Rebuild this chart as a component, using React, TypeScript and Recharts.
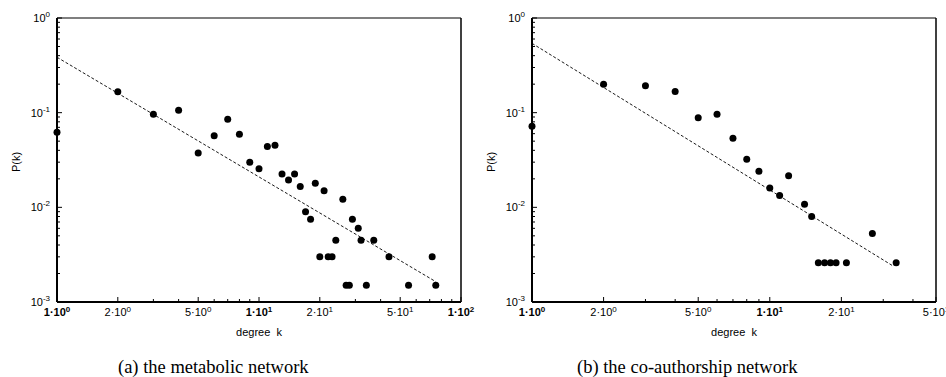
import React from "react";
import { Scatter, ScatterChart, XAxis, YAxis } from "recharts";

// (a) metabolic network: degree k and P(k)
const metabolicK = [1, 2, 3, 4, 5, 6, 7, 8, 9, 10, 11, 12, 13, 14, 15, 16, 17, 18, 19, 20, 21, 22, 23, 24, 26, 27, 28, 29, 31, 32, 34, 37, 44, 55, 72, 75];
const metabolicP = [0.062, 0.166, 0.096, 0.106, 0.0375, 0.057, 0.085, 0.059, 0.03, 0.0256, 0.0438, 0.0453, 0.0225, 0.0195, 0.0225, 0.0166, 0.009, 0.0075, 0.018, 0.003, 0.015, 0.003, 0.003, 0.0045, 0.0122, 0.0015, 0.0015, 0.0075, 0.006, 0.0045, 0.0015, 0.0045, 0.003, 0.0015, 0.003, 0.0015];
const metabolicFitK = [1, 75];
const metabolicFitP = [0.385, 0.00164];

// (b) co-authorship network
const coauthorK = [1, 2, 3, 4, 5, 6, 7, 8, 9, 10, 11, 12, 14, 15, 16, 17, 18, 19, 21, 27, 34];
const coauthorP = [0.072, 0.2, 0.193, 0.167, 0.0886, 0.096, 0.0537, 0.0322, 0.024, 0.016, 0.0133, 0.0215, 0.0108, 0.008, 0.0026, 0.0026, 0.0026, 0.0026, 0.0026, 0.0053, 0.0026];
const coauthorFitK = [1, 33];
const coauthorFitP = [0.54, 0.0024];

// axis ticks (minor ones get no label)
const xTicksMetabolic = [1, 2, 3, 4, 5, 6, 7, 8, 9, 10, 20, 30, 40, 50, 60, 70, 80, 90, 100];
const xTicksCoauthor = [1, 2, 3, 4, 5, 6, 7, 8, 9, 10, 20, 30, 40, 50];
const xLabelled = [1, 2, 5, 10, 20, 50, 100];
const yTicks = [
  0.001, 0.002, 0.003, 0.004, 0.005, 0.006, 0.007, 0.008, 0.009,
  0.01, 0.02, 0.03, 0.04, 0.05, 0.06, 0.07, 0.08, 0.09,
  0.1, 0.2, 0.3, 0.4, 0.5, 0.6, 0.7, 0.8, 0.9, 1,
];
const yLabelled = [0.001, 0.01, 0.1, 1];

const captions = ["(a) the metabolic network", "(b) the co-authorship network"];

const toPoints = (ks: number[], ps: number[]) => ks.map((k, i) => ({ k, p: ps[i] }));

const decade = (v: number) => Math.floor(Math.log10(v) + 1e-9);

function XBottomTick({ x, y, payload }: any) {
  const v = payload.value;
  const labelled = xLabelled.includes(v);
  const exp = decade(v);
  const mant = Math.round(v / Math.pow(10, exp));
  return (
    <g>
      <line x1={x} x2={x} y1={y} y2={y - (labelled ? 5 : 3)} stroke="#000" />
      {labelled && (
        <text x={x} y={y + 14} textAnchor="middle" fontSize={11} fontWeight={mant === 1 ? 700 : 400} fill="#000">
          {mant}·10<tspan dy={-4} fontSize={8}>{exp}</tspan>
        </text>
      )}
    </g>
  );
}

function XTopTick({ x, y, payload }: any) {
  const labelled = xLabelled.includes(payload.value);
  return <line x1={x} x2={x} y1={y} y2={y + (labelled ? 5 : 3)} stroke="#000" />;
}

function YLeftTick({ x, y, payload }: any) {
  const v = payload.value;
  const labelled = yLabelled.includes(v);
  return (
    <g>
      <line x1={x} x2={x + (labelled ? 5 : 3)} y1={y} y2={y} stroke="#000" />
      {labelled && (
        <text x={x - 7} y={y + 4} textAnchor="end" fontSize={11} fill="#000">
          10<tspan dy={-5} fontSize={8}>{Math.round(Math.log10(v))}</tspan>
        </text>
      )}
    </g>
  );
}

function YRightTick({ x, y, payload }: any) {
  const labelled = yLabelled.includes(payload.value);
  return <line x1={x} x2={x - (labelled ? 5 : 3)} y1={y} y2={y} stroke="#000" />;
}

function PLabel({ viewBox }: any) {
  const cx = viewBox.x + viewBox.width - 41;
  const cy = viewBox.y + viewBox.height / 2 + 2;
  return (
    <text x={cx} y={cy} transform={`rotate(-90 ${cx} ${cy})`} textAnchor="middle" dominantBaseline="central" fontSize={11} fill="#000">
      P(k)
    </text>
  );
}

function KLabel({ viewBox }: any) {
  return (
    <text x={viewBox.x + viewBox.width / 2} y={viewBox.y + 34} textAnchor="middle" fontSize={11} fill="#000" style={{ whiteSpace: "pre" }}>
      {"degree  k"}
    </text>
  );
}

function Panel({
  points,
  fit,
  xMax,
  xTicks,
  width,
  leftWidth,
  rightWidth,
}: {
  points: { k: number; p: number }[];
  fit: { k: number; p: number }[];
  xMax: number;
  xTicks: number[];
  width: number;
  leftWidth: number;
  rightWidth: number;
}) {
  return (
    <ScatterChart width={width} height={377} margin={{ top: 0, right: 0, bottom: 37, left: 0 }} style={{ fontFamily: '"Liberation Sans", Arial, sans-serif' }}>
      <XAxis
        dataKey="k"
        type="number"
        scale="log"
        domain={[1, xMax]}
        ticks={xTicks}
        interval={0}
        height={38}
        tickSize={0}
        tickMargin={0}
        tickLine={false}
        axisLine={{ stroke: "#000", strokeWidth: 2 }}
        tick={<XBottomTick />}
        label={<KLabel />}
      />
      <XAxis
        xAxisId="top"
        orientation="top"
        dataKey="k"
        type="number"
        scale="log"
        domain={[1, xMax]}
        ticks={xTicks}
        interval={0}
        height={18}
        tickSize={0}
        tickMargin={0}
        tickLine={false}
        axisLine={{ stroke: "#000", strokeWidth: 1.2 }}
        tick={<XTopTick />}
      />
      <YAxis
        dataKey="p"
        type="number"
        scale="log"
        domain={[0.001, 1]}
        ticks={yTicks}
        interval={0}
        width={leftWidth}
        tickSize={0}
        tickMargin={0}
        tickLine={false}
        axisLine={{ stroke: "#000", strokeWidth: 2 }}
        tick={<YLeftTick />}
        label={<PLabel />}
      />
      <YAxis
        yAxisId="right"
        orientation="right"
        dataKey="p"
        type="number"
        scale="log"
        domain={[0.001, 1]}
        ticks={yTicks}
        interval={0}
        width={rightWidth}
        tickSize={0}
        tickMargin={0}
        tickLine={false}
        axisLine={{ stroke: "#000", strokeWidth: 1.5 }}
        tick={<YRightTick />}
      />
      <Scatter
        data={fit}
        line={{ stroke: "#000", strokeWidth: 0.9, strokeDasharray: "3 2" }}
        shape={() => <g />}
        isAnimationActive={false}
      />
      <Scatter
        data={points}
        fill="#000"
        shape={(s: any) => <circle cx={s.cx} cy={s.cy} r={3.5} fill="#000" />}
        isAnimationActive={false}
      />
    </ScatterChart>
  );
}

export default function App() {
  const captionStyle: React.CSSProperties = {
    position: "absolute",
    top: 358,
    fontFamily: '"Liberation Serif", "Times New Roman", serif',
    fontSize: 18.5,
    lineHeight: "18px",
    whiteSpace: "nowrap",
    color: "#000",
  };
  return (
    <div style={{ position: "absolute", left: 0, top: 0, width: 946, height: 377, background: "#fff", overflow: "hidden" }}>
      <style>{".recharts-surface { overflow: visible; }"}</style>
      <div style={{ position: "absolute", left: 470, top: 0 }}>
        <Panel
          points={toPoints(coauthorK, coauthorP)}
          fit={toPoints(coauthorFitK, coauthorFitP)}
          xMax={50}
          xTicks={xTicksCoauthor}
          width={476}
          leftWidth={62}
          rightWidth={10}
        />
      </div>
      <div style={{ position: "absolute", left: 0, top: 0 }}>
        <Panel
          points={toPoints(metabolicK, metabolicP)}
          fit={toPoints(metabolicFitK, metabolicFitP)}
          xMax={100}
          xTicks={xTicksMetabolic}
          width={470}
          leftWidth={57}
          rightWidth={9}
        />
      </div>
      <div style={{ ...captionStyle, left: 118 }}>{captions[0]}</div>
      <div style={{ ...captionStyle, left: 577 }}>{captions[1]}</div>
    </div>
  );
}
